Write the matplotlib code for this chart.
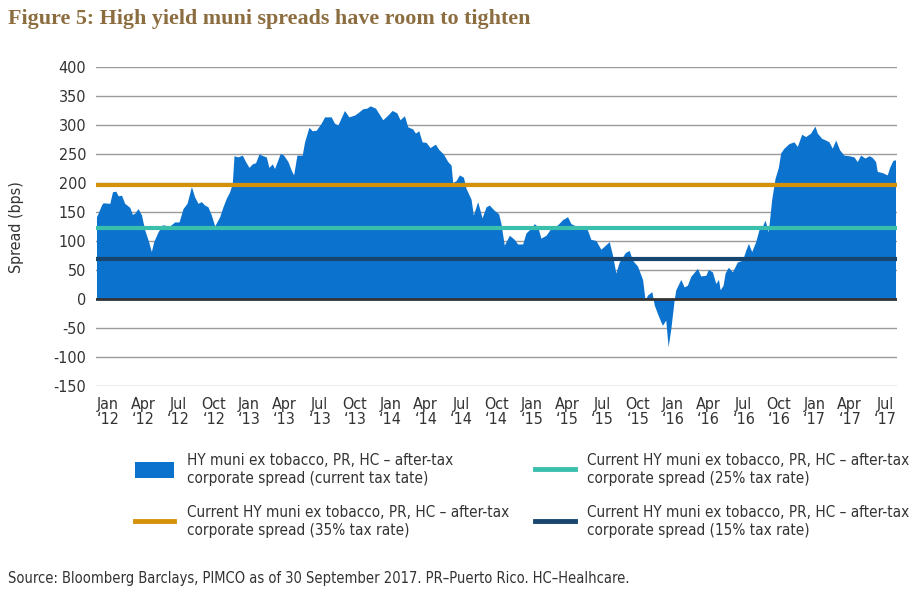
import matplotlib
matplotlib.use("Agg")
import matplotlib.pyplot as plt
from matplotlib.patches import Patch
from matplotlib.lines import Line2D


# months since Jan 2012 and HY muni after-tax corporate spread (bps)
months = [
    -0.96, -0.82, -0.54, -0.40, 0.17, 0.40, 0.68, 0.88, 1.16, 1.44, 1.87, 2.09,
    2.29, 2.57, 2.86, 3.14, 3.42, 3.70, 3.90, 4.27, 4.64, 5.26, 5.68, 6.05,
    6.39, 6.73, 7.10, 7.38, 7.66, 7.94, 8.23, 8.51, 8.79, 9.08, 9.50, 9.78,
    10.07, 10.35, 10.57, 10.72, 11.05, 11.42, 11.70, 11.99, 12.27, 12.55, 12.84, 13.18,
    13.46, 13.68, 13.97, 14.16, 14.65, 14.93, 15.30, 15.58, 15.78, 16.06, 16.51, 16.71,
    17.08, 17.36, 17.70, 18.12, 18.41, 18.97, 19.25, 19.54, 20.10, 20.47, 20.95, 21.23,
    21.66, 22.00, 22.28, 22.73, 23.01, 23.35, 23.78, 24.14, 24.54, 24.82, 25.19, 25.47,
    25.90, 26.12, 26.41, 26.69, 27.03, 27.37, 27.82, 28.10, 28.50, 28.87, 29.15, 29.29,
    29.57, 29.86, 30.20, 30.42, 30.85, 31.04, 31.41, 31.78, 32.12, 32.40, 32.82, 33.19,
    33.39, 33.67, 34.10, 34.52, 34.80, 35.23, 35.51, 35.93, 36.22, 36.50, 36.78, 37.21,
    37.63, 38.20, 38.62, 39.04, 39.33, 39.75, 40.32, 40.74, 41.02, 41.45, 41.87, 42.15,
    42.58, 42.86, 43.14, 43.43, 43.94, 44.27, 44.56, 44.98, 45.41, 45.63, 45.83, 46.20,
    46.40, 46.68, 46.96, 47.10, 47.38, 47.58, 47.81, 48.09, 48.23, 48.66, 48.94, 49.22,
    49.50, 50.07, 50.35, 50.78, 51.00, 51.34, 51.63, 51.86, 52.00, 52.25, 52.42, 52.70,
    53.04, 53.46, 53.89, 54.17, 54.40, 54.68, 55.02, 55.30, 55.58, 55.81, 56.09, 56.37,
    56.66, 56.94, 57.14, 57.42, 57.85, 58.27, 58.55, 58.92, 59.26, 59.68, 60.05, 60.25,
    60.62, 60.96, 61.24, 61.52, 61.81, 62.15, 62.51, 62.94, 63.36, 63.64, 63.93, 64.30,
    64.64, 64.92, 65.20, 65.34, 65.76, 66.19, 66.39, 66.67, 66.89,
]
spread = [
    142, 148, 162, 166, 165, 185, 186, 178, 179, 165, 158, 146,
    148, 156, 145, 119, 102, 82, 99, 116, 128, 126, 133, 133,
    156, 165, 194, 176, 165, 168, 162, 159, 145, 126, 142, 159,
    174, 185, 199, 247, 245, 248, 237, 227, 233, 235, 250, 247,
    245, 227, 233, 225, 251, 248, 237, 222, 214, 248, 248, 271,
    296, 290, 291, 303, 314, 314, 303, 300, 325, 314, 317, 321,
    328, 329, 333, 329, 320, 309, 317, 325, 321, 309, 316, 297,
    293, 286, 290, 271, 270, 261, 267, 258, 250, 237, 231, 201,
    204, 214, 210, 191, 172, 145, 168, 140, 159, 162, 153, 147,
    130, 93, 110, 103, 95, 95, 114, 122, 130, 125, 105, 110,
    122, 128, 137, 142, 130, 126, 125, 119, 103, 101, 86, 91,
    99, 76, 45, 64, 80, 84, 67, 57, 34, -2, 7, 13,
    -10, -25, -39, -45, -36, -82, -51, -2, 16, 34, 21, 24,
    39, 53, 40, 41, 51, 47, 27, 34, 16, 24, 45, 55,
    47, 64, 67, 84, 96, 82, 99, 120, 125, 136, 116, 171,
    208, 227, 252, 260, 268, 271, 263, 284, 280, 286, 298, 286,
    277, 274, 271, 260, 274, 257, 248, 247, 245, 237, 248, 243,
    247, 244, 237, 220, 218, 214, 227, 239, 240,
]

# current after-tax spread levels (bps)
level_35 = 197
level_25 = 123
level_15 = 69

tick_months = list(range(0, 67, 3))
tick_labels = []
for i, m in enumerate(tick_months):
    mon = ["Jan", "Apr", "Jul", "Oct"][i % 4]
    yr = 12 + m // 12
    tick_labels.append("%s\n\u2018%d" % (mon, yr))

legend_left = [
    "HY muni ex tobacco, PR, HC \u2013 after-tax\ncorporate spread (current tax tate)",
    "Current HY muni ex tobacco, PR, HC \u2013 after-tax\ncorporate spread (35% tax rate)",
]
legend_right = [
    "Current HY muni ex tobacco, PR, HC \u2013 after-tax\ncorporate spread (25% tax rate)",
    "Current HY muni ex tobacco, PR, HC \u2013 after-tax\ncorporate spread (15% tax rate)",
]

BLUE = "#0B72CE"
ORANGE = "#D4910A"
TEAL = "#3BBFAD"
NAVY = "#17456E"
TXT = "#333333"

plt.rcParams["font.family"] = ["DejaVu Sans"]
plt.rcParams["font.stretch"] = "condensed"
plt.rcParams["axes.unicode_minus"] = False


def main():

    fig = plt.figure(figsize=(9.1, 6.14), dpi=100)
    ax = fig.add_axes([0.1055, 0.371, 0.880, 0.520])

    for v in range(-150, 401, 50):
        if v != 0:
            ax.axhline(v, color="#9a9a9a", lw=1.0, zorder=0)

    ax.fill_between(months, 0, spread, color=BLUE, lw=0, zorder=1)
    ax.axhline(0, color="#333333", lw=2.0, zorder=2)

    ax.axhline(level_35, color=ORANGE, lw=3.0, zorder=3)
    ax.axhline(level_25, color=TEAL, lw=3.0, zorder=3)
    ax.axhline(level_15, color=NAVY, lw=3.0, zorder=3)

    ax.set_xlim(-1.0, 67.0)
    ax.set_ylim(-150, 400)
    ax.set_yticks(range(-150, 401, 50))
    ax.set_xticks(tick_months)
    ax.set_xticklabels(tick_labels, linespacing=1.0)
    ax.tick_params(length=0, labelsize=11.5, colors=TXT)
    ax.tick_params(axis="y", pad=7)
    ax.tick_params(axis="x", pad=8)
    for s in ax.spines.values():
        s.set_visible(False)

    ax.set_ylabel("Spread (bps)", fontsize=11.5, color=TXT, labelpad=21)

    fig.text(0.009, 0.969, "Figure 5: High yield muni spreads have room to tighten",
             family="Liberation Serif", stretch="normal", fontweight="bold",
             fontsize=15.8, color="#8C6D3F", va="center")

    kw = dict(loc="upper left", frameon=False, fontsize=11, labelcolor=TXT,
              handlelength=2.6, handleheight=1.2, handletextpad=0.8,
              labelspacing=1.3, borderpad=0, borderaxespad=0)

    fig.legend([Patch(facecolor=BLUE, edgecolor="none"),
                Line2D([], [], color=ORANGE, lw=3.5)],
               legend_left, bbox_to_anchor=(0.148, 0.262), **kw)
    fig.legend([Line2D([], [], color=TEAL, lw=3.5),
                Line2D([], [], color=NAVY, lw=3.5)],
               legend_right, bbox_to_anchor=(0.588, 0.262), **kw)

    fig.text(0.009, 0.058,
             "Source: Bloomberg Barclays, PIMCO as of 30 September 2017. "
             "PR\u2013Puerto Rico. HC\u2013Healhcare.",
             fontsize=10.5, color=TXT, va="center")

    fig.savefig("out.png", dpi=100)


if __name__ == "__main__":
    main()
